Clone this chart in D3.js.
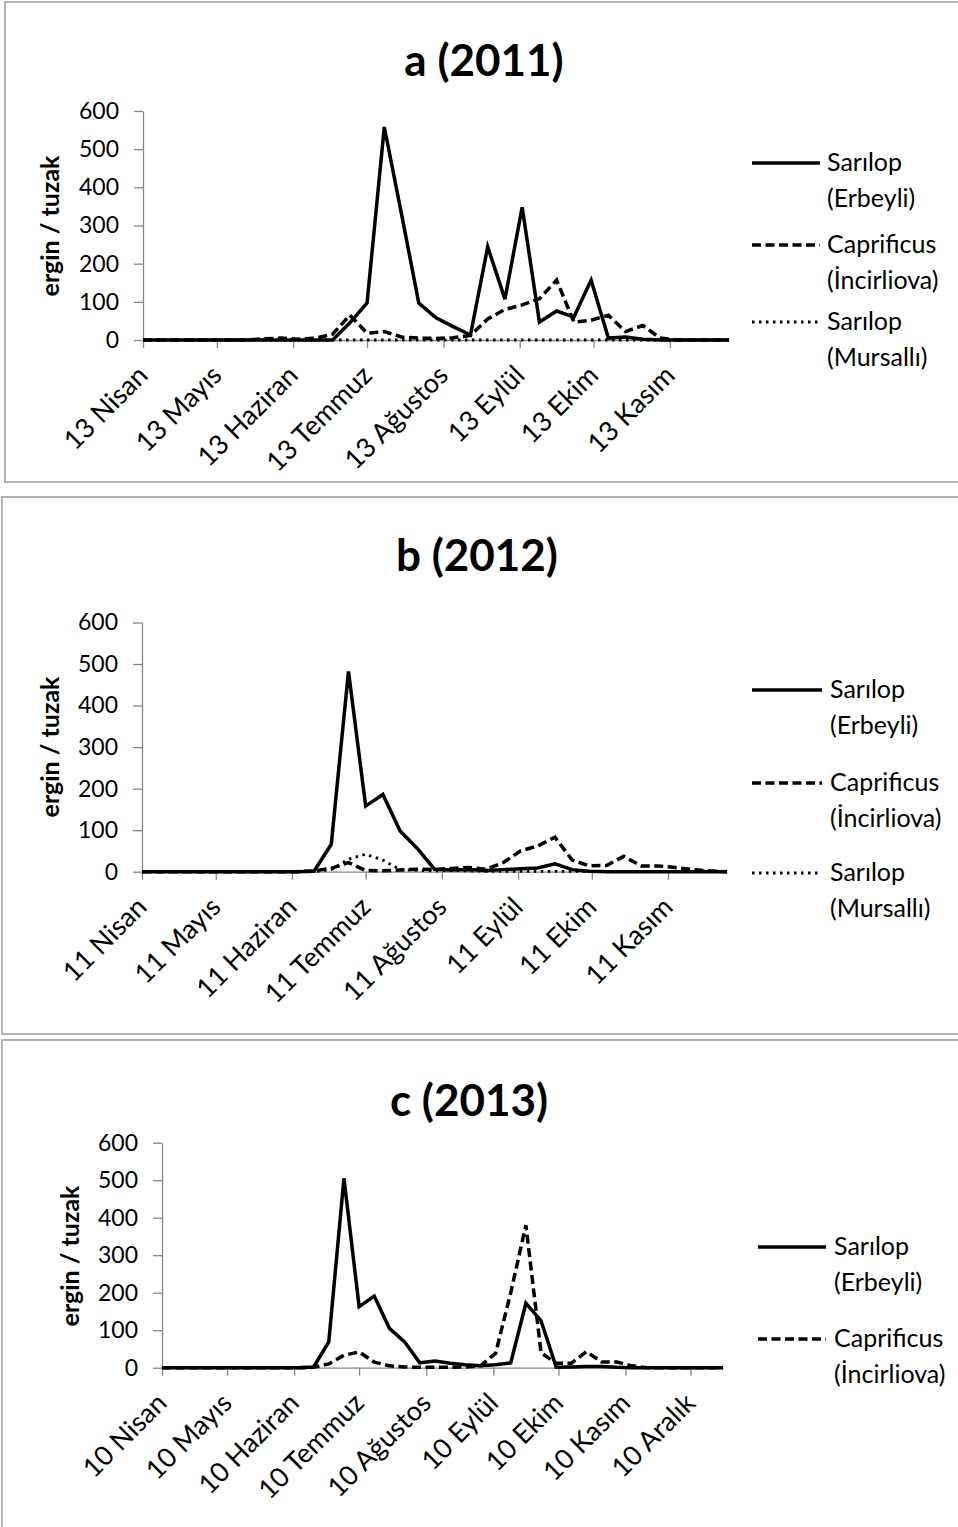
<!DOCTYPE html>
<html>
<head>
<meta charset="utf-8">
<script src="https://cdn.jsdelivr.net/npm/d3@7"></script>
<style>
    body { margin: 0; background: #fff; }
    svg { display: block; }
    text { font-family: Lato, "Open Sans", sans-serif; fill: #000; }
</style>
</head>
<body>
<svg id="chart" width="958" height="1527"></svg>
<script>
// a (2011) - haftalik sayimlar
const datesA = ['2011-04-13', '2011-04-20', '2011-04-27', '2011-05-04', '2011-05-11', '2011-05-18', '2011-05-25',
    '2011-06-01', '2011-06-08', '2011-06-15', '2011-06-22', '2011-06-29', '2011-07-06', '2011-07-13', '2011-07-20',
    '2011-07-27', '2011-08-03', '2011-08-10', '2011-08-17', '2011-08-24', '2011-08-31', '2011-09-07', '2011-09-14',
    '2011-09-21', '2011-09-28', '2011-10-05', '2011-10-12', '2011-10-19', '2011-10-26', '2011-11-02', '2011-11-09',
    '2011-11-16', '2011-11-23', '2011-11-30', '2011-12-07'];
const erbeyliA = [0, 0, 0, 0, 0, 0, 0, 0, 0, 0, 0, 0, 45, 97, 558, 330, 97, 58, 35, 13, 244, 107, 348, 47, 76, 60, 157, 5, 8, 2, 0, 0, 0, 0, 0];
const incirliovaA = [0, 0, 0, 0, 0, 0, 0, 3, 5, 2, 5, 15, 65, 18, 22, 8, 5, 4, 6, 12, 55, 80, 92, 108, 157, 47, 52, 65, 22, 38, 5, 0, 0, 0, 0];
const mursalliA = [0, 0, 0, 0, 0, 0, 0, 0, 0, 0, 0, 0, 0, 0, 0, 0, 0, 0, 0, 0, 0, 0, 0, 0, 0, 0, 0, 0, 0, 0, 0, 0, 0, 0, 0];
const tickDatesA = ['2011-04-13', '2011-05-13', '2011-06-13', '2011-07-13', '2011-08-13', '2011-09-13', '2011-10-13', '2011-11-13'];
const tickLabelsA = ['13 Nisan', '13 Mayıs', '13 Haziran', '13 Temmuz', '13 Ağustos', '13 Eylül', '13 Ekim', '13 Kasım'];

// b (2012)
const datesB = ['2012-04-11', '2012-04-18', '2012-04-25', '2012-05-02', '2012-05-09', '2012-05-16', '2012-05-23',
    '2012-05-30', '2012-06-06', '2012-06-13', '2012-06-20', '2012-06-27', '2012-07-04', '2012-07-11', '2012-07-18',
    '2012-07-25', '2012-08-01', '2012-08-08', '2012-08-15', '2012-08-22', '2012-08-29', '2012-09-05', '2012-09-12',
    '2012-09-19', '2012-09-26', '2012-10-03', '2012-10-10', '2012-10-17', '2012-10-24', '2012-10-31', '2012-11-07',
    '2012-11-14', '2012-11-21', '2012-11-28', '2012-12-05'];
const erbeyliB = [0, 0, 0, 0, 0, 0, 0, 0, 0, 0, 1, 66, 482, 158, 186, 98, 56, 6, 4, 5, 3, 5, 7, 9, 19, 5, 1, 0, 0, 0, 0, 0, 0, 0, 0];
const incirliovaB = [0, 0, 0, 0, 0, 0, 0, 0, 0, 0, 2, 8, 22, 3, 2, 4, 6, 5, 8, 10, 6, 22, 50, 62, 83, 28, 14, 15, 37, 14, 14, 10, 5, 2, 0];
const mursalliB = [0, 0, 0, 0, 0, 0, 0, 0, 0, 0, 0, 5, 30, 42, 28, 5, 3, 2, 3, 2, 1, 1, 1, 1, 1, 1, 0, 0, 0, 0, 0, 0, 0, 0, 0];
const tickDatesB = ['2012-04-11', '2012-05-11', '2012-06-11', '2012-07-11', '2012-08-11', '2012-09-11', '2012-10-11', '2012-11-11'];
const tickLabelsB = ['11 Nisan', '11 Mayıs', '11 Haziran', '11 Temmuz', '11 Ağustos', '11 Eylül', '11 Ekim', '11 Kasım'];

// c (2013)
const datesC = ['2013-04-10', '2013-04-17', '2013-04-24', '2013-05-01', '2013-05-08', '2013-05-15', '2013-05-22',
    '2013-05-29', '2013-06-05', '2013-06-12', '2013-06-19', '2013-06-26', '2013-07-03', '2013-07-10', '2013-07-17',
    '2013-07-24', '2013-07-31', '2013-08-07', '2013-08-14', '2013-08-21', '2013-08-28', '2013-09-04', '2013-09-11',
    '2013-09-18', '2013-09-25', '2013-10-02', '2013-10-09', '2013-10-16', '2013-10-23', '2013-10-30', '2013-11-06',
    '2013-11-13', '2013-11-20', '2013-11-27', '2013-12-04', '2013-12-11', '2013-12-18', '2013-12-25'];
const erbeyliC = [0, 0, 0, 0, 0, 0, 0, 0, 0, 0, 2, 69, 505, 163, 191, 105, 69, 13, 18, 12, 8, 5, 8, 13, 172, 125, 1, 2, 3, 3, 1, 0, 0, 0, 0, 0, 0, 0];
const incirliovaC = [0, 0, 0, 0, 0, 0, 0, 0, 0, 0, 1, 10, 33, 42, 15, 5, 2, 1, 1, 1, 2, 5, 38, 200, 380, 40, 12, 12, 43, 15, 15, 5, 0, 0, 0, 0, 0, 0];
const tickDatesC = ['2013-04-10', '2013-05-10', '2013-06-10', '2013-07-10', '2013-08-10', '2013-09-10', '2013-10-10', '2013-11-10', '2013-12-10'];
const tickLabelsC = ['10 Nisan', '10 Mayıs', '10 Haziran', '10 Temmuz', '10 Ağustos', '10 Eylül', '10 Ekim', '10 Kasım', '10 Aralık'];

const yTicks = [0, 100, 200, 300, 400, 500, 600];
const seriesNames = [['Sarılop', '(Erbeyli)'], ['Caprificus', '(İncirliova)'], ['Sarılop', '(Mursallı)']];

const AXIS_COLOR = '#868686';
const FRAME_COLOR = '#9a9a9a';
const LINE_STYLES = [
    { dash: null, width: 3.5 },       // duz cizgi
    { dash: '9,4.5', width: 3.5 },    // kesikli
    { dash: '2.5,4.5', width: 2.8 }   // noktali
];

const parseDate = d3.timeParse('%Y-%m-%d');
const svg = d3.select('#chart');

function drawPanel(p) {
    const g = svg.append('g');

    // cerceve
    g.append('rect')
        .attr('x', p.frame.x).attr('y', p.frame.y)
        .attr('width', p.frame.w).attr('height', p.frame.h)
        .attr('fill', 'none').attr('stroke', FRAME_COLOR).attr('stroke-width', 1.5);

    const dates = p.dates.map(parseDate);
    const x = d3.scaleTime()
        .domain([dates[0], dates[dates.length - 1]])
        .range([p.left, p.right]);
    const y = d3.scaleLinear().domain([0, 600]).range([p.bottom, p.top]);

    // y ekseni
    const yAxis = g.append('g')
        .attr('transform', `translate(${p.left},0)`)
        .call(d3.axisLeft(y).tickValues(yTicks).tickSize(9).tickSizeOuter(0).tickPadding(15));
    yAxis.select('.domain').attr('stroke', AXIS_COLOR).attr('stroke-width', 1.3);
    yAxis.selectAll('.tick line').attr('stroke', AXIS_COLOR).attr('stroke-width', 1.3);
    yAxis.selectAll('.tick text')
        .attr('font-family', 'Lato, "Open Sans", sans-serif')
        .attr('font-size', 23)
        .attr('fill', '#000');

    // x ekseni
    const tickDates = p.tickDates.map(parseDate);
    const xAxis = g.append('g')
        .attr('transform', `translate(0,${p.bottom})`)
        .call(d3.axisBottom(x).tickValues(tickDates).tickSize(8).tickSizeOuter(0)
            .tickFormat((d, i) => p.tickLabels[i]));
    xAxis.select('.domain').attr('stroke', AXIS_COLOR).attr('stroke-width', 1.3);
    xAxis.selectAll('.tick line').attr('stroke', AXIS_COLOR).attr('stroke-width', 1.3);
    xAxis.selectAll('.tick text')
        .attr('font-family', 'Lato, "Open Sans", sans-serif')
        .attr('font-size', 27)
        .attr('fill', '#000')
        .attr('text-anchor', 'end')
        .attr('dy', null)
        .attr('y', 0)
        .attr('transform', 'translate(6,37) rotate(-45)');

    // baslik
    g.append('text')
        .attr('x', p.titleX).attr('y', p.titleY)
        .attr('text-anchor', 'middle')
        .attr('font-size', 44).attr('font-weight', 'bold')
        .text(p.title);

    // eksen basligi
    g.append('text')
        .attr('transform', `translate(${p.yTitleX},${p.yTitleY}) rotate(-90)`)
        .attr('text-anchor', 'middle')
        .attr('font-size', 25).attr('font-weight', 'bold')
        .text('ergin / tuzak');

    // seriler
    const line = d3.line()
        .x(d => x(d.date))
        .y(d => y(d.value));

    p.series.forEach((values, i) => {
        const pts = values.map((v, j) => ({ date: dates[j], value: v }));
        g.append('path')
            .attr('d', line(pts))
            .attr('fill', 'none')
            .attr('stroke', '#000')
            .attr('stroke-width', LINE_STYLES[i].width)
            .attr('stroke-dasharray', LINE_STYLES[i].dash);
    });

    // lejant
    p.series.forEach((values, i) => {
        const ly = p.legend.ys[i];
        g.append('line')
            .attr('x1', p.legend.x1).attr('x2', p.legend.x2)
            .attr('y1', ly).attr('y2', ly)
            .attr('stroke', '#000')
            .attr('stroke-width', LINE_STYLES[i].width)
            .attr('stroke-dasharray', LINE_STYLES[i].dash);
        const t = g.append('text')
            .attr('x', p.legend.tx).attr('y', ly + 8)
            .attr('font-size', 25);
        t.append('tspan').attr('x', p.legend.tx).text(seriesNames[i][0]);
        t.append('tspan').attr('x', p.legend.tx).attr('dy', 36).text(seriesNames[i][1]);
    });
}

drawPanel({
    title: 'a (2011)', titleX: 484, titleY: 76,
    frame: { x: 5, y: 2, w: 1000, h: 480 },
    left: 143, right: 729, top: 111, bottom: 340,
    yTitleX: 59, yTitleY: 226,
    dates: datesA, tickDates: tickDatesA, tickLabels: tickLabelsA,
    series: [erbeyliA, incirliovaA, mursalliA],
    legend: { x1: 752, x2: 820, tx: 827, ys: [163, 245, 322] }
});

drawPanel({
    title: 'b (2012)', titleX: 477, titleY: 571,
    frame: { x: 2, y: 497, w: 1000, h: 537 },
    left: 142, right: 727, top: 622.5, bottom: 871.7,
    yTitleX: 59, yTitleY: 747,
    dates: datesB, tickDates: tickDatesB, tickLabels: tickLabelsB,
    series: [erbeyliB, incirliovaB, mursalliB],
    legend: { x1: 752, x2: 822, tx: 830, ys: [690, 783, 873] }
});

drawPanel({
    title: 'c (2013)', titleX: 469, titleY: 1116,
    frame: { x: 2, y: 1040, w: 1000, h: 600 },
    left: 162, right: 723, top: 1142.7, bottom: 1367.7,
    yTitleX: 79, yTitleY: 1256,
    dates: datesC, tickDates: tickDatesC, tickLabels: tickLabelsC,
    series: [erbeyliC, incirliovaC],
    legend: { x1: 758, x2: 826, tx: 834, ys: [1247, 1339] }
});
</script>
</body>
</html>
